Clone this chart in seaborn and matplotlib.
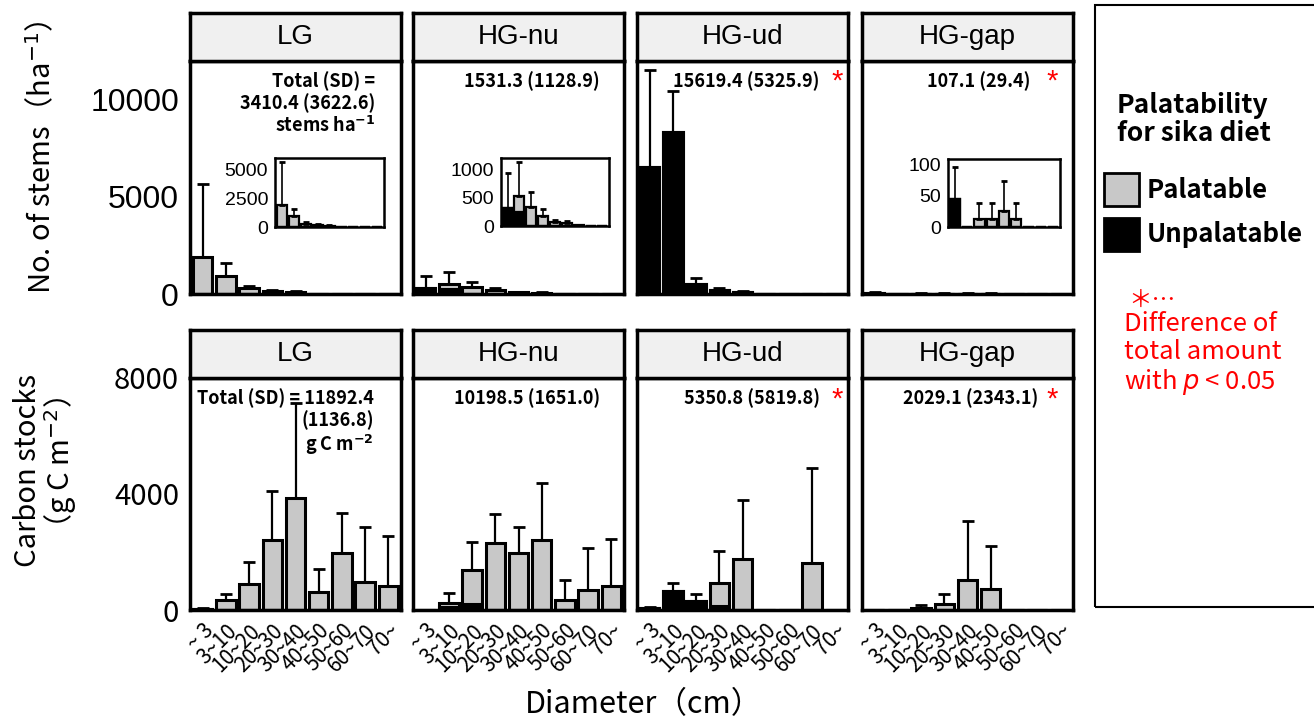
import numpy as np
import pandas as pd
import seaborn as sns
import matplotlib.pyplot as plt
from matplotlib.patches import Patch, Rectangle

sites = ['LG', 'HG-nu', 'HG-ud', 'HG-gap']
diam = ['~ 3', '3~10', '10~20', '20~30', '30~40', '40~50', '50~60', '60~70', '70~']

# stems per ha, split by palatability (means) + upper SD
stem_pal = {
    'LG':     [1913, 940, 290, 150, 100, 0, 0, 0, 0],
    'HG-nu':  [0, 280, 340, 185, 80, 55, 10, 6, 5],
    'HG-ud':  [0, 0, 0, 0, 0, 0, 0, 0, 0],
    'HG-gap': [0, 0, 12.5, 12.5, 25, 12.5, 0, 0, 0],
}
stem_unp = {
    'LG':     [0, 0, 0, 0, 0, 0, 0, 0, 0],
    'HG-nu':  [320, 250, 0, 0, 0, 0, 0, 0, 0],
    'HG-ud':  [6500, 8300, 510, 200, 90, 0, 0, 20, 0],
    'HG-gap': [44.6, 0, 0, 0, 0, 0, 0, 0, 0],
}
stem_sd = {
    'LG':     [3727, 665, 135, 80, 60, 0, 0, 0, 0],
    'HG-nu':  [620, 600, 270, 110, 35, 35, 0, 0, 0],
    'HG-ud':  [4987, 2125, 310, 120, 40, 0, 0, 0, 0],
    'HG-gap': [50, 0, 25, 25, 48.7, 25, 0, 0, 0],
}

# carbon stocks g C m-2
carb_pal = {
    'LG':     [0, 330, 886, 2400, 3860, 630, 1950, 965, 840],
    'HG-nu':  [0, 160, 1168, 2300, 1965, 2420, 355, 700, 840],
    'HG-ud':  [0, 0, 0, 793, 1755, 0, 0, 1632, 0],
    'HG-gap': [0, 0, 70, 196, 1028, 735, 0, 0, 0],
}
carb_unp = {
    'LG':     [30, 0, 0, 0, 0, 0, 0, 0, 0],
    'HG-nu':  [0, 90, 200, 0, 0, 0, 0, 0, 0],
    'HG-ud':  [80, 645, 310, 138, 0, 0, 0, 0, 0],
    'HG-gap': [0, 0, 0, 0, 0, 0, 0, 0, 0],
}
carb_sd = {
    'LG':     [30, 230, 759, 1715, 3266, 773, 1384, 1885, 1700],
    'HG-nu':  [0, 325, 987, 1010, 897, 1950, 691, 1438, 1618],
    'HG-ud':  [20, 286, 242, 1103, 2049, 0, 0, 3253, 0],
    'HG-gap': [0, 0, 102, 367, 2040, 1483, 0, 0, 0],
}

stem_txt = {'LG': 'Total (SD) =\n3410.4 (3622.6)\nstems ha$^{\\mathbf{-1}}$',
            'HG-nu': '1531.3 (1128.9)', 'HG-ud': '15619.4 (5325.9)', 'HG-gap': '107.1 (29.4)'}
carb_txt = {'LG': 'Total (SD) = 11892.4\n(1136.8)\ng C m$^{\\mathbf{-2}}$',
            'HG-nu': '10198.5 (1651.0)', 'HG-ud': '5350.8 (5819.8)', 'HG-gap': '2029.1 (2343.1)'}
signif = {'LG': False, 'HG-nu': False, 'HG-ud': True, 'HG-gap': True}

# inset y ranges / ticks (None = no inset)
inset_lim = {'LG': (6030, [0, 2500, 5000]), 'HG-nu': (1210, [0, 500, 1000]),
             'HG-ud': None, 'HG-gap': (108, [0, 50, 100])}

GRAY = '#c8c8c8'
CJK = ['Noto Sans CJK KR', 'DejaVu Sans']
ARIAL = ['Liberation Sans', 'Noto Sans CJK KR', 'DejaVu Sans']

sns.set_theme(style='white')
plt.rcParams['font.family'] = CJK
plt.rcParams['axes.unicode_minus'] = False
for k in ['text.color', 'axes.labelcolor', 'xtick.color', 'ytick.color']:
    plt.rcParams[k] = 'black'

W, H = 1314, 721
fig = plt.figure(figsize=(W / 100, H / 100), dpi=100)


def box(l, t, w, h):
    # pixel box (left, top, width, height) -> figure fraction rect
    return [l / W, 1 - (t + h) / H, w / W, h / H]


def draw_bars(ax, pal, unp, sd, lw=2.2, cap=4, elw=1.6):
    pal, unp, sd = np.array(pal, float), np.array(unp, float), np.array(sd, float)
    total = pal + unp
    df = pd.DataFrame({'d': diam, 'total': total, 'unp': unp})
    sns.barplot(data=df, x='d', y='total', order=diam, color=GRAY, saturation=1,
                edgecolor='black', linewidth=lw, width=0.84, errorbar=None, ax=ax)
    sns.barplot(data=df, x='d', y='unp', order=diam, color='black', saturation=1,
                edgecolor='black', linewidth=lw, width=0.84, errorbar=None, ax=ax)
    m = sd > 0
    x = np.arange(len(diam))
    ax.errorbar(x[m], total[m], yerr=[np.zeros(m.sum()), sd[m]], fmt='none',
                ecolor='black', elinewidth=elw, capsize=cap, capthick=2, zorder=1)
    ax.set_xlim(-0.55, len(diam) - 0.45)
    ax.set_xlabel('')
    ax.set_ylabel('')


def frame(ax, lw=2.5):
    for s in ax.spines.values():
        s.set_visible(True)
        s.set_color('black')
        s.set_linewidth(lw)


lefts = [190, 413, 637, 862]
pw = 211
star_x = {'HG-ud': 0.948, 'HG-gap': 0.90}
rows = [
    dict(top=61, h=233, strip=13, ylim=11950, yticks=[0, 5000, 10000],
         pal=stem_pal, unp=stem_unp, sd=stem_sd, txt=stem_txt, tickfont=ARIAL, tsize=23, star_y=0.91),
    dict(top=378, h=232, strip=330, ylim=8000, yticks=[0, 4000, 8000],
         pal=carb_pal, unp=carb_unp, sd=carb_sd, txt=carb_txt, tickfont=CJK, tsize=21, star_y=0.905),
]

for r, row in enumerate(rows):
    for c, site in enumerate(sites):
        ax = fig.add_axes(box(lefts[c], row['top'], pw, row['h']))
        draw_bars(ax, row['pal'][site], row['unp'][site], row['sd'][site])
        ax.set_ylim(0, row['ylim'])
        frame(ax)
        ax.tick_params(axis='x', direction='out', length=6, width=2, color='#333333')
        if c == 0:
            ax.set_yticks(row['yticks'])
            ax.set_yticklabels([str(v) for v in row['yticks']], family=row['tickfont'],
                               fontsize=row['tsize'])
            ax.tick_params(axis='y', direction='out', length=6, width=2, color='#333333', pad=2)
        else:
            ax.set_yticks([])
        if r == 0:
            ax.tick_params(axis='x', labelbottom=False)
        else:
            ax.set_xticks(range(len(diam)))
            ax.set_xticklabels(diam, rotation=45, ha='right', rotation_mode='anchor', fontsize=15)
            ax.tick_params(axis='x', pad=1)

        # strip header
        sax = fig.add_axes(box(lefts[c], row['strip'], pw, row['top'] - row['strip']))
        sax.set_facecolor('#f0f0f0')
        sax.set_xticks([])
        sax.set_yticks([])
        frame(sax)
        sax.text(0.5, 0.5, site, ha='center', va='center', fontsize=20, family=ARIAL)

        # totals
        txt = row['txt'][site]
        if site == 'LG':
            xr = 0.877 if r == 0 else 0.872
            ax.text(xr, 0.955, txt, transform=ax.transAxes, ha='right', va='top',
                    fontsize=13, fontweight='bold', linespacing=1.15)
        else:
            xr = {'HG-nu': 0.885, 'HG-ud': 0.865, 'HG-gap': 0.796 if r == 0 else 0.834}[site]
            ax.text(xr, 0.955, txt, transform=ax.transAxes, ha='right', va='top',
                    fontsize=13, fontweight='bold')
        if signif[site]:
            ax.text(star_x[site], row['star_y'], '*', transform=ax.transAxes, ha='center',
                    va='center', fontsize=21, color='red', family=ARIAL)

        # insets for stem counts
        if r == 0 and inset_lim[site] is not None:
            ins = {'LG': (275, 158, 109, 69), 'HG-nu': (501, 158, 108, 68),
                   'HG-gap': (948, 159, 112, 68)}[site]
            iax = fig.add_axes(box(*ins))
            draw_bars(iax, stem_pal[site], stem_unp[site], stem_sd[site], lw=1.6, cap=2.5, elw=1.2)
            top, ticks = inset_lim[site]
            iax.set_ylim(0, top)
            iax.set_yticks(ticks)
            iax.set_yticklabels([str(v) for v in ticks], family=ARIAL, fontsize=14)
            frame(iax, lw=1.8)
            iax.tick_params(axis='both', direction='out', length=4, width=1.5, color='#333333', pad=1)
            iax.tick_params(axis='x', labelbottom=False)

# axis titles
fig.text(42 / W, 1 - 157 / H, 'No. of stems（ha$^{-1}$）', rotation=90, ha='center', va='center',
         fontsize=21)
fig.text(46 / W, 1 - 470 / H, 'Carbon stocks\n（g C m$^{-2}$）', rotation=90, ha='center', va='center',
         fontsize=21, multialignment='center', linespacing=1.0)
fig.text(643 / W, 1 - 705 / H, 'Diameter（cm）', ha='center', va='center', fontsize=22)

# legend panel
fig.patches.append(Rectangle((1095 / W, 1 - 607 / H), 240 / W, 602 / H, transform=fig.transFigure,
                             fill=False, lw=1.5, ec='black'))
fig.text(1117 / W, 1 - 92 / H, 'Palatability\nfor sika diet', ha='left', va='top',
         fontsize=19, fontweight='bold', linespacing=1.05)
handles = [Patch(facecolor=GRAY, edgecolor='black', linewidth=2),
           Patch(facecolor='black', edgecolor='black', linewidth=2)]
fig.legend(handles=handles, labels=['Palatable', 'Unpalatable'], loc='upper left',
           bbox_to_anchor=(1086 / W, 1 - 155 / H), frameon=False,
           prop=dict(weight='bold', size=18.5), handlelength=1.35, handleheight=1.6,
           handletextpad=0.3, labelspacing=0.45, borderpad=0.2)
fig.text(1128 / W, 1 - 300 / H, '＊…', ha='left', va='center', fontsize=17, color='red')
fig.text(1124 / W, 1 - 311 / H, 'Difference of\ntotal amount\nwith $p$ < 0.05', ha='left', va='top',
         fontsize=18.5, color='red', linespacing=1.1)

fig.savefig('out.png', dpi=100)
